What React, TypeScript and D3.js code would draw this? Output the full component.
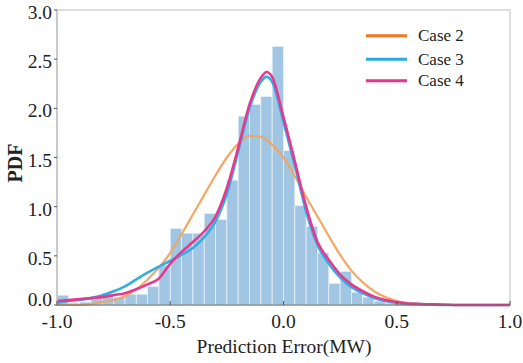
import React from "react";
import * as d3 from "d3";

// Histogram bins (left edge, width 0.05) and density heights
const binLefts = [-1.0, -0.95, -0.9, -0.85, -0.8, -0.75, -0.7, -0.65, -0.6, -0.55, -0.5, -0.45, -0.4, -0.35, -0.3, -0.25, -0.2, -0.15, -0.1, -0.05, 0.0, 0.05, 0.1, 0.15, 0.2, 0.25, 0.3, 0.35, 0.4, 0.45];
const binHeights = [0.10, 0.02, 0.03, 0.08, 0.12, 0.08, 0.11, 0.11, 0.19, 0.40, 0.78, 0.73, 0.73, 0.93, 0.87, 1.27, 1.92, 2.04, 2.12, 2.63, 1.57, 1.01, 0.80, 0.53, 0.22, 0.34, 0.13, 0.08, 0.04, 0.02];
const binWidth = 0.05;

// Fitted curves
const curveX = [-1.0, -0.95, -0.9, -0.85, -0.8, -0.75, -0.7, -0.65, -0.6, -0.55, -0.5, -0.45, -0.4, -0.35, -0.3, -0.25, -0.2, -0.15, -0.1, -0.075, -0.05, 0.0, 0.05, 0.1, 0.15, 0.2, 0.25, 0.3, 0.35, 0.4, 0.45, 0.5, 0.55, 0.6, 0.7, 0.8, 0.9, 1.0];
const case2 = [0.0, 0.0, 0.0, 0.01, 0.03, 0.05, 0.09, 0.16, 0.26, 0.38, 0.53, 0.72, 0.92, 1.12, 1.32, 1.50, 1.64, 1.72, 1.71, 1.68, 1.63, 1.50, 1.31, 1.10, 0.90, 0.70, 0.51, 0.35, 0.23, 0.14, 0.08, 0.04, 0.02, 0.01, 0.0, 0.0, 0.0, 0.0];
const case3 = [0.02, 0.04, 0.05, 0.07, 0.10, 0.14, 0.19, 0.26, 0.33, 0.39, 0.45, 0.51, 0.58, 0.69, 0.85, 1.13, 1.56, 2.00, 2.27, 2.32, 2.27, 1.86, 1.42, 0.95, 0.61, 0.42, 0.28, 0.18, 0.12, 0.07, 0.04, 0.02, 0.01, 0.01, 0.0, 0.0, 0.0, 0.0];
const case4 = [0.04, 0.05, 0.06, 0.07, 0.08, 0.10, 0.12, 0.16, 0.21, 0.27, 0.42, 0.54, 0.64, 0.75, 0.90, 1.19, 1.60, 2.04, 2.31, 2.37, 2.32, 1.91, 1.46, 1.00, 0.64, 0.46, 0.31, 0.21, 0.14, 0.085, 0.05, 0.03, 0.015, 0.01, 0.005, 0.0, 0.0, 0.0];

const xTicks = [-1.0, -0.5, 0.0, 0.5, 1.0];
const yTicks = [0.0, 0.5, 1.0, 1.5, 2.0, 2.5, 3.0];
const legendLabels = ["Case 2", "Case 3", "Case 4"];

const W = 523, H = 363;
const L = 57, R = 510, T = 10, B = 305;
const FONT = "'Liberation Serif', 'Times New Roman', serif";

export default function App() {
  const x = d3.scaleLinear().domain([-1, 1]).range([L, R]);
  const y = d3.scaleLinear().domain([0, 3]).range([B, T]);

  const line = (vals: number[]) =>
    d3.line<number>()
      .x((_, i) => x(curveX[i]))
      .y((v) => y(v))
      .curve(d3.curveMonotoneX)(vals) || "";

  const curves = [
    { vals: case2, color: "#f3a35c", width: 2.2, opacity: 0.95 },
    { vals: case3, color: "#35ace4", width: 2.6, opacity: 1 },
    { vals: case4, color: "#e8388e", width: 2.6, opacity: 1 },
  ];
  const legendColors = ["#f27628", "#2aaae2", "#e8338c"];
  const legendY = [35.7, 59.3, 80.7];

  return (
    <svg width={W} height={H} style={{ position: "absolute", left: 0, top: 0, background: "#fff" }} fontFamily={FONT}>
      <rect x={0} y={0} width={W} height={H} fill="#fff" />
      {/* frame */}
      <rect x={L} y={T} width={R - L} height={B - T} fill="none" stroke="#c9c9c9" strokeWidth={1.2} />
      {/* bars */}
      {binLefts.map((b, i) => (
        <rect
          key={i}
          x={x(b)}
          y={y(binHeights[i])}
          width={x(b + binWidth) - x(b)}
          height={y(0) - y(binHeights[i])}
          fill="#a0c6e3"
          stroke="#e6eff7"
          strokeWidth={0.8}
        />
      ))}
      {/* curves */}
      {curves.map((c, i) => (
        <path key={i} d={line(c.vals)} fill="none" stroke={c.color} strokeWidth={c.width} opacity={c.opacity} strokeLinejoin="round" />
      ))}
      {/* axes lines */}
      <line x1={L} x2={R} y1={B} y2={B} stroke="#6b6b6b" strokeWidth={1.2} />
      <line x1={L} x2={L} y1={T} y2={B} stroke="#bdbdbd" strokeWidth={1.2} />
      {/* x ticks */}
      {xTicks.map((t) => (
        <g key={"x" + t}>
          <line x1={x(t)} x2={x(t)} y1={B} y2={B - 4} stroke="#555" strokeWidth={1} />
          <text x={x(t)} y={328} textAnchor="middle" fontSize={19.5} fill="#222">
            {t.toFixed(1)}
          </text>
        </g>
      ))}
      {/* y ticks */}
      {yTicks.map((t) => (
        <g key={"y" + t}>
          <line x1={L - 3} x2={L} y1={y(t)} y2={y(t)} stroke="#555" strokeWidth={1} />
          <text x={52} y={t === 0 ? y(t) + 1 : y(t) + 9} textAnchor="end" fontSize={19.5} fill="#222">
            {t.toFixed(1)}
          </text>
        </g>
      ))}
      {/* axis titles */}
      <text x={284} y={353} textAnchor="middle" fontSize={19.5} fill="#222">
        Prediction Error(MW)
      </text>
      <text transform="translate(22,163) rotate(-90)" textAnchor="middle" fontSize={20} fontWeight="bold" fill="#222">
        PDF
      </text>
      {/* legend */}
      {legendLabels.map((lab, i) => (
        <g key={lab}>
          <line x1={366} x2={407} y1={legendY[i]} y2={legendY[i]} stroke={legendColors[i]} strokeWidth={3} />
          <text x={418} y={legendY[i] + 5.5} fontSize={17} fill="#222">
            {lab}
          </text>
        </g>
      ))}
    </svg>
  );
}
